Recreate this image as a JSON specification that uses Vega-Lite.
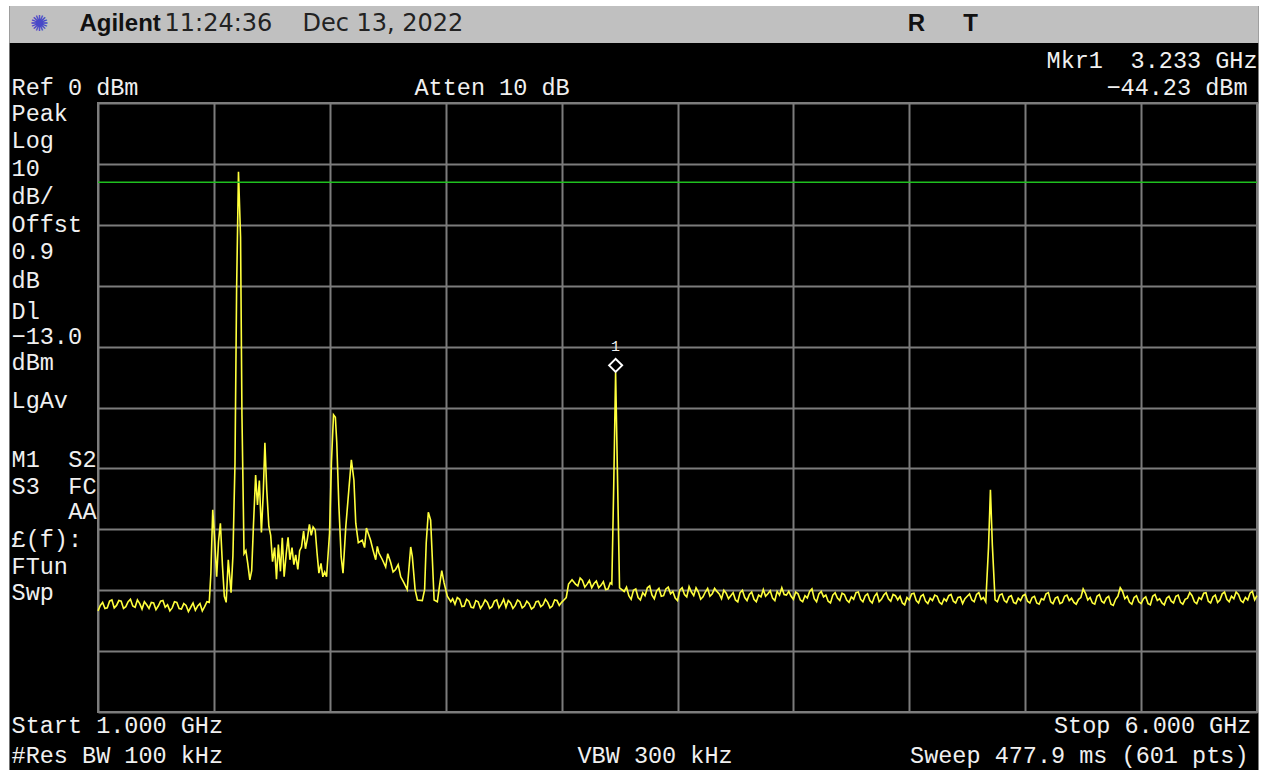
{
  "$schema": "https://vega.github.io/schema/vega-lite/v6.json",
  "width": 1159,
  "height": 609,
  "autosize": {"type": "none"},
  "padding": {"left": 98, "top": 103, "right": 10, "bottom": 58},
  "background": "black",
  "config": {
    "view": {"stroke": "#7c7c7c", "strokeWidth": 2, "fill": "black"},
    "axis": {"grid": true, "gridColor": "#7c7c7c", "gridWidth": 2, "gridOpacity": 1, "labels": false, "ticks": false, "domain": false, "title": null}
  },
  "datasets": {
    "trace": [
      {"f":1.00,"p":-83.4},{"f":1.01,"p":-82.5},{"f":1.02,"p":-82.0},{"f":1.03,"p":-83.0},{"f":1.04,"p":-82.9},
      {"f":1.05,"p":-81.8},{"f":1.06,"p":-81.6},{"f":1.07,"p":-82.9},{"f":1.08,"p":-82.5},{"f":1.09,"p":-81.7},
      {"f":1.10,"p":-81.8},{"f":1.11,"p":-83.0},{"f":1.12,"p":-82.7},{"f":1.13,"p":-81.9},{"f":1.14,"p":-81.5},
      {"f":1.15,"p":-82.6},{"f":1.16,"p":-82.8},{"f":1.17,"p":-81.6},{"f":1.18,"p":-82.2},{"f":1.19,"p":-83.1},
      {"f":1.20,"p":-81.9},{"f":1.21,"p":-82.4},{"f":1.22,"p":-83.0},{"f":1.23,"p":-82.0},{"f":1.24,"p":-82.1},
      {"f":1.25,"p":-83.2},{"f":1.26,"p":-82.6},{"f":1.27,"p":-81.8},{"f":1.28,"p":-81.7},{"f":1.29,"p":-82.8},
      {"f":1.30,"p":-82.4},{"f":1.31,"p":-83.4},{"f":1.32,"p":-82.9},{"f":1.33,"p":-81.9},{"f":1.34,"p":-82.0},
      {"f":1.35,"p":-83.0},{"f":1.36,"p":-83.1},{"f":1.37,"p":-82.2},{"f":1.38,"p":-82.5},{"f":1.39,"p":-83.5},
      {"f":1.40,"p":-82.8},{"f":1.41,"p":-82.1},{"f":1.42,"p":-83.3},{"f":1.43,"p":-82.6},{"f":1.44,"p":-82.2},
      {"f":1.45,"p":-83.4},{"f":1.46,"p":-82.7},{"f":1.47,"p":-81.9},{"f":1.48,"p":-82.0},
      {"f":1.487,"p":-77.2},{"f":1.495,"p":-66.8},{"f":1.503,"p":-71.5},{"f":1.512,"p":-77.8},{"f":1.520,"p":-72.0},
      {"f":1.528,"p":-69.0},{"f":1.537,"p":-76.0},{"f":1.545,"p":-81.0},{"f":1.553,"p":-82.0},{"f":1.562,"p":-75.0},
      {"f":1.574,"p":-80.4},{"f":1.582,"p":-74.4},{"f":1.591,"p":-59.1},{"f":1.598,"p":-30.4},{"f":1.606,"p":-11.3},
      {"f":1.615,"p":-22.0},{"f":1.621,"p":-51.2},{"f":1.630,"p":-74.0},{"f":1.638,"p":-73.5},{"f":1.646,"p":-75.6},
      {"f":1.655,"p":-78.3},{"f":1.663,"p":-76.8},{"f":1.671,"p":-69.0},{"f":1.680,"p":-61.1},{"f":1.688,"p":-66.0},
      {"f":1.696,"p":-62.0},{"f":1.705,"p":-70.5},{"f":1.713,"p":-64.0},{"f":1.720,"p":-55.8},{"f":1.728,"p":-63.5},
      {"f":1.737,"p":-69.5},{"f":1.745,"p":-71.0},{"f":1.753,"p":-75.3},{"f":1.762,"p":-73.0},{"f":1.770,"p":-78.2},
      {"f":1.778,"p":-72.5},{"f":1.787,"p":-76.9},{"f":1.795,"p":-71.4},{"f":1.803,"p":-77.8},{"f":1.812,"p":-74.0},
      {"f":1.820,"p":-71.3},{"f":1.828,"p":-75.0},{"f":1.837,"p":-73.0},{"f":1.845,"p":-75.8},{"f":1.853,"p":-74.2},
      {"f":1.862,"p":-76.6},{"f":1.870,"p":-73.5},{"f":1.878,"p":-72.9},{"f":1.887,"p":-70.3},{"f":1.895,"p":-73.2},
      {"f":1.903,"p":-71.6},{"f":1.912,"p":-69.2},{"f":1.920,"p":-71.0},{"f":1.928,"p":-69.6},{"f":1.937,"p":-70.1},
      {"f":1.945,"p":-73.9},{"f":1.953,"p":-77.2},{"f":1.962,"p":-75.6},{"f":1.970,"p":-77.8},{"f":1.978,"p":-77.0},
      {"f":1.986,"p":-77.8},{"f":1.999,"p":-70.6},{"f":2.007,"p":-59.1},{"f":2.016,"p":-51.2},{"f":2.024,"p":-51.6},
      {"f":2.030,"p":-55.7},{"f":2.039,"p":-66.0},{"f":2.049,"p":-74.5},{"f":2.057,"p":-77.2},{"f":2.069,"p":-69.6},
      {"f":2.083,"p":-63.1},{"f":2.093,"p":-58.6},{"f":2.104,"p":-61.9},{"f":2.112,"p":-69.0},{"f":2.123,"p":-72.2},
      {"f":2.140,"p":-71.8},{"f":2.150,"p":-73.0},{"f":2.158,"p":-69.8},{"f":2.176,"p":-71.8},{"f":2.187,"p":-73.5},
      {"f":2.198,"p":-75.0},{"f":2.205,"p":-72.8},{"f":2.212,"p":-73.9},{"f":2.227,"p":-75.0},{"f":2.241,"p":-76.2},
      {"f":2.250,"p":-74.0},{"f":2.263,"p":-75.5},{"f":2.273,"p":-77.0},{"f":2.284,"p":-76.6},{"f":2.295,"p":-75.8},
      {"f":2.306,"p":-77.8},{"f":2.320,"p":-78.8},{"f":2.334,"p":-79.9},{"f":2.349,"p":-72.9},{"f":2.356,"p":-74.5},
      {"f":2.368,"p":-79.9},{"f":2.378,"p":-81.6},{"f":2.399,"p":-81.7},{"f":2.409,"p":-79.9},{"f":2.416,"p":-72.2},
      {"f":2.425,"p":-67.2},{"f":2.435,"p":-68.5},{"f":2.442,"p":-74.5},{"f":2.450,"p":-81.6},{"f":2.464,"p":-81.9},
      {"f":2.474,"p":-79.1},{"f":2.483,"p":-76.8},{"f":2.493,"p":-78.8},{"f":2.507,"p":-81.0},{"f":2.522,"p":-81.9},
      {"f":2.53,"p":-81.4},{"f":2.54,"p":-82.3},{"f":2.55,"p":-81.2},{"f":2.56,"p":-81.5},{"f":2.57,"p":-82.7},
      {"f":2.58,"p":-82.6},{"f":2.59,"p":-81.5},{"f":2.60,"p":-81.8},{"f":2.61,"p":-82.8},{"f":2.62,"p":-82.9},
      {"f":2.63,"p":-81.7},{"f":2.64,"p":-81.9},{"f":2.65,"p":-83.0},{"f":2.66,"p":-82.4},{"f":2.67,"p":-81.6},
      {"f":2.68,"p":-82.0},{"f":2.69,"p":-83.0},{"f":2.70,"p":-82.7},{"f":2.71,"p":-81.8},{"f":2.72,"p":-81.6},
      {"f":2.73,"p":-82.9},{"f":2.74,"p":-82.3},{"f":2.75,"p":-81.5},{"f":2.76,"p":-82.8},{"f":2.77,"p":-81.7},
      {"f":2.78,"p":-82.1},{"f":2.79,"p":-83.0},{"f":2.80,"p":-82.5},{"f":2.81,"p":-81.6},{"f":2.82,"p":-81.9},
      {"f":2.83,"p":-82.9},{"f":2.84,"p":-82.6},{"f":2.85,"p":-81.8},{"f":2.86,"p":-82.2},{"f":2.87,"p":-83.1},
      {"f":2.88,"p":-82.8},{"f":2.89,"p":-81.9},{"f":2.90,"p":-81.8},{"f":2.91,"p":-82.7},{"f":2.92,"p":-82.4},
      {"f":2.93,"p":-81.5},{"f":2.94,"p":-82.0},{"f":2.95,"p":-82.9},{"f":2.96,"p":-82.6},{"f":2.97,"p":-81.6},
      {"f":2.98,"p":-81.7},{"f":2.99,"p":-82.5},{"f":3.00,"p":-82.0},{"f":3.01,"p":-81.6},{"f":3.02,"p":-81.2},
      {"f":3.03,"p":-79.0},{"f":3.045,"p":-78.3},{"f":3.06,"p":-79.0},{"f":3.07,"p":-79.3},{"f":3.08,"p":-78.0},
      {"f":3.09,"p":-78.4},{"f":3.10,"p":-79.5},{"f":3.11,"p":-79.0},{"f":3.12,"p":-78.4},{"f":3.13,"p":-79.6},
      {"f":3.14,"p":-78.9},{"f":3.15,"p":-78.5},{"f":3.16,"p":-79.6},{"f":3.17,"p":-79.2},{"f":3.18,"p":-78.6},
      {"f":3.19,"p":-79.9},{"f":3.20,"p":-79.8},{"f":3.21,"p":-78.8},
      {"f":3.2167,"p":-79.0},{"f":3.225,"p":-62.6},{"f":3.233,"p":-44.23},{"f":3.2417,"p":-62.5},{"f":3.25,"p":-79.6},
      {"f":3.27,"p":-80.2},{"f":3.28,"p":-79.5},{"f":3.29,"p":-80.9},{"f":3.30,"p":-81.5},{"f":3.31,"p":-80.0},
      {"f":3.32,"p":-79.8},{"f":3.33,"p":-81.2},{"f":3.34,"p":-81.6},{"f":3.35,"p":-80.4},{"f":3.36,"p":-80.9},
      {"f":3.37,"p":-79.6},{"f":3.38,"p":-79.3},{"f":3.39,"p":-80.8},{"f":3.40,"p":-81.4},{"f":3.41,"p":-80.1},
      {"f":3.42,"p":-79.7},{"f":3.43,"p":-81.0},{"f":3.44,"p":-80.9},{"f":3.45,"p":-79.8},{"f":3.46,"p":-79.5},
      {"f":3.47,"p":-80.6},{"f":3.48,"p":-80.2},{"f":3.49,"p":-81.3},{"f":3.50,"p":-81.7},{"f":3.51,"p":-80.0},
      {"f":3.52,"p":-79.6},{"f":3.53,"p":-80.7},{"f":3.54,"p":-81.1},{"f":3.55,"p":-79.4},{"f":3.56,"p":-80.3},
      {"f":3.57,"p":-80.9},{"f":3.58,"p":-79.6},{"f":3.59,"p":-80.3},{"f":3.60,"p":-81.5},{"f":3.61,"p":-81.1},
      {"f":3.62,"p":-80.3},{"f":3.63,"p":-79.7},{"f":3.64,"p":-81.0},{"f":3.65,"p":-80.6},{"f":3.66,"p":-79.7},
      {"f":3.67,"p":-80.2},{"f":3.68,"p":-80.6},{"f":3.69,"p":-81.4},{"f":3.70,"p":-80.0},{"f":3.71,"p":-80.5},
      {"f":3.72,"p":-81.4},{"f":3.73,"p":-80.9},{"f":3.74,"p":-80.4},{"f":3.75,"p":-81.6},{"f":3.76,"p":-81.9},
      {"f":3.77,"p":-80.4},{"f":3.78,"p":-80.0},{"f":3.79,"p":-81.2},{"f":3.80,"p":-81.7},{"f":3.81,"p":-80.7},
      {"f":3.82,"p":-80.3},{"f":3.83,"p":-81.5},{"f":3.84,"p":-81.9},{"f":3.85,"p":-80.8},{"f":3.86,"p":-81.1},
      {"f":3.87,"p":-79.9},{"f":3.88,"p":-81.0},{"f":3.89,"p":-80.6},{"f":3.90,"p":-80.1},{"f":3.91,"p":-81.3},
      {"f":3.92,"p":-81.7},{"f":3.93,"p":-80.2},{"f":3.94,"p":-80.8},{"f":3.95,"p":-79.6},{"f":3.96,"p":-80.7},
      {"f":3.97,"p":-80.8},{"f":3.98,"p":-80.2},{"f":3.99,"p":-81.0},{"f":4.00,"p":-81.5},{"f":4.01,"p":-80.3},
      {"f":4.02,"p":-80.6},{"f":4.03,"p":-81.6},{"f":4.04,"p":-81.9},{"f":4.05,"p":-80.9},{"f":4.06,"p":-81.3},
      {"f":4.07,"p":-80.2},{"f":4.08,"p":-79.8},{"f":4.09,"p":-81.4},{"f":4.10,"p":-81.9},{"f":4.11,"p":-80.6},
      {"f":4.12,"p":-80.2},{"f":4.13,"p":-81.1},{"f":4.14,"p":-80.8},{"f":4.15,"p":-81.8},{"f":4.16,"p":-82.1},
      {"f":4.17,"p":-80.8},{"f":4.18,"p":-80.4},{"f":4.19,"p":-81.3},{"f":4.20,"p":-81.7},{"f":4.21,"p":-80.5},
      {"f":4.22,"p":-80.7},{"f":4.23,"p":-81.6},{"f":4.24,"p":-82.0},{"f":4.25,"p":-81.1},{"f":4.26,"p":-81.5},
      {"f":4.27,"p":-80.4},{"f":4.28,"p":-80.3},{"f":4.29,"p":-81.5},{"f":4.30,"p":-81.9},{"f":4.31,"p":-80.9},
      {"f":4.32,"p":-80.6},{"f":4.33,"p":-81.7},{"f":4.34,"p":-82.1},{"f":4.35,"p":-81.0},{"f":4.36,"p":-80.5},
      {"f":4.37,"p":-81.9},{"f":4.38,"p":-81.5},{"f":4.39,"p":-80.8},{"f":4.40,"p":-80.4},{"f":4.41,"p":-81.4},
      {"f":4.42,"p":-81.8},{"f":4.43,"p":-80.7},{"f":4.44,"p":-80.9},{"f":4.45,"p":-81.6},{"f":4.46,"p":-81.0},
      {"f":4.47,"p":-82.1},{"f":4.48,"p":-82.4},{"f":4.49,"p":-81.2},{"f":4.50,"p":-81.6},{"f":4.51,"p":-80.6},
      {"f":4.52,"p":-80.5},{"f":4.53,"p":-81.7},{"f":4.54,"p":-82.1},{"f":4.55,"p":-81.0},{"f":4.56,"p":-80.7},
      {"f":4.57,"p":-81.8},{"f":4.58,"p":-82.2},{"f":4.59,"p":-81.3},{"f":4.60,"p":-81.7},{"f":4.61,"p":-80.8},
      {"f":4.62,"p":-81.0},{"f":4.63,"p":-82.0},{"f":4.64,"p":-82.3},{"f":4.65,"p":-81.4},{"f":4.66,"p":-81.8},
      {"f":4.67,"p":-80.9},{"f":4.68,"p":-80.7},{"f":4.69,"p":-81.8},{"f":4.70,"p":-82.1},{"f":4.71,"p":-81.2},
      {"f":4.72,"p":-81.1},{"f":4.73,"p":-82.2},{"f":4.74,"p":-81.4},{"f":4.75,"p":-81.0},{"f":4.76,"p":-80.6},
      {"f":4.77,"p":-81.6},{"f":4.78,"p":-81.9},{"f":4.79,"p":-80.7},{"f":4.80,"p":-80.4},{"f":4.81,"p":-81.5},
      {"f":4.82,"p":-81.2},{"f":4.83,"p":-81.9},{"f":4.8417,"p":-73.0},{"f":4.85,"p":-63.5},{"f":4.8583,"p":-72.6},
      {"f":4.87,"p":-81.6},{"f":4.88,"p":-81.9},{"f":4.89,"p":-80.8},{"f":4.90,"p":-80.6},{"f":4.91,"p":-81.7},
      {"f":4.92,"p":-82.0},{"f":4.93,"p":-81.1},{"f":4.94,"p":-80.9},{"f":4.95,"p":-82.0},{"f":4.96,"p":-82.2},
      {"f":4.97,"p":-81.3},{"f":4.98,"p":-81.7},{"f":4.99,"p":-80.9},{"f":5.00,"p":-80.7},{"f":5.01,"p":-81.8},
      {"f":5.02,"p":-82.1},{"f":5.03,"p":-81.2},{"f":5.04,"p":-81.0},{"f":5.05,"p":-82.1},{"f":5.06,"p":-82.3},
      {"f":5.07,"p":-81.4},{"f":5.08,"p":-81.6},{"f":5.09,"p":-80.6},{"f":5.10,"p":-80.4},{"f":5.11,"p":-81.9},
      {"f":5.12,"p":-82.2},{"f":5.13,"p":-81.3},{"f":5.14,"p":-81.1},{"f":5.15,"p":-82.2},{"f":5.16,"p":-82.0},
      {"f":5.17,"p":-81.0},{"f":5.18,"p":-80.8},{"f":5.19,"p":-81.7},{"f":5.20,"p":-81.3},{"f":5.21,"p":-82.0},
      {"f":5.22,"p":-82.3},{"f":5.23,"p":-81.5},{"f":5.24,"p":-81.2},{"f":5.25,"p":-79.8},{"f":5.26,"p":-80.5},
      {"f":5.27,"p":-81.6},{"f":5.28,"p":-81.2},{"f":5.29,"p":-82.1},{"f":5.30,"p":-82.3},{"f":5.31,"p":-81.0},
      {"f":5.32,"p":-80.7},{"f":5.33,"p":-81.8},{"f":5.34,"p":-82.1},{"f":5.35,"p":-81.3},{"f":5.36,"p":-81.0},
      {"f":5.37,"p":-82.3},{"f":5.38,"p":-82.5},{"f":5.39,"p":-81.5},{"f":5.40,"p":-81.0},{"f":5.41,"p":-79.6},
      {"f":5.42,"p":-80.2},{"f":5.43,"p":-81.4},{"f":5.44,"p":-81.0},{"f":5.45,"p":-82.0},{"f":5.46,"p":-82.3},
      {"f":5.47,"p":-81.2},{"f":5.48,"p":-80.9},{"f":5.49,"p":-81.9},{"f":5.50,"p":-82.2},{"f":5.51,"p":-81.4},
      {"f":5.52,"p":-81.1},{"f":5.53,"p":-82.2},{"f":5.54,"p":-82.4},{"f":5.55,"p":-81.0},{"f":5.56,"p":-80.7},
      {"f":5.57,"p":-81.7},{"f":5.58,"p":-81.4},{"f":5.59,"p":-82.1},{"f":5.60,"p":-82.4},{"f":5.61,"p":-81.3},
      {"f":5.62,"p":-81.0},{"f":5.63,"p":-81.8},{"f":5.64,"p":-82.1},{"f":5.65,"p":-81.0},{"f":5.66,"p":-80.8},
      {"f":5.67,"p":-82.0},{"f":5.68,"p":-82.3},{"f":5.69,"p":-81.5},{"f":5.70,"p":-81.3},{"f":5.71,"p":-80.4},
      {"f":5.72,"p":-80.9},{"f":5.73,"p":-81.9},{"f":5.74,"p":-82.2},{"f":5.75,"p":-81.2},{"f":5.76,"p":-81.5},
      {"f":5.77,"p":-80.5},{"f":5.78,"p":-80.4},{"f":5.79,"p":-81.8},{"f":5.80,"p":-82.1},{"f":5.81,"p":-81.1},
      {"f":5.82,"p":-80.8},{"f":5.83,"p":-82.0},{"f":5.84,"p":-81.6},{"f":5.85,"p":-80.6},{"f":5.86,"p":-80.3},
      {"f":5.87,"p":-81.5},{"f":5.88,"p":-81.9},{"f":5.89,"p":-81.0},{"f":5.90,"p":-81.4},{"f":5.91,"p":-80.3},
      {"f":5.92,"p":-80.7},{"f":5.93,"p":-81.7},{"f":5.94,"p":-82.0},{"f":5.95,"p":-81.2},{"f":5.96,"p":-81.6},
      {"f":5.97,"p":-80.5},{"f":5.98,"p":-80.2},{"f":5.99,"p":-81.6},{"f":6.00,"p":-80.9}
    ],
    "leftText": [
      {"t":"Peak","f":0.627,"p":-1.81},
      {"t":"Log","f":0.627,"p":-6.24},
      {"t":"10","f":0.627,"p":-10.84},
      {"t":"dB/","f":0.627,"p":-15.44},
      {"t":"Offst","f":0.627,"p":-20.03},
      {"t":"0.9","f":0.627,"p":-24.47},
      {"t":"dB","f":0.627,"p":-29.23},
      {"t":"Dl","f":0.627,"p":-34.32},
      {"t":"−13.0","f":0.627,"p":-38.42},
      {"t":"dBm","f":0.627,"p":-42.69},
      {"t":"LgAv","f":0.627,"p":-48.93},
      {"t":"M1","f":0.627,"p":-58.62},
      {"t":"S3","f":0.627,"p":-63.05},
      {"t":"£(f):","f":0.627,"p":-71.76},
      {"t":"FTun","f":0.627,"p":-76.19},
      {"t":"Swp","f":0.627,"p":-80.46},
      {"t":"Ref 0 dBm","f":0.627,"p":2.46},
      {"t":"Atten 10 dB","f":2.3654,"p":2.46},
      {"t":"Mkr1","f":5.092,"p":6.9},
      {"t":"Start 1.000 GHz","f":0.627,"p":-102.3},
      {"t":"#Res BW 100 kHz","f":0.627,"p":-107.2},
      {"t":"VBW 300 kHz","f":3.0686,"p":-107.2}
    ],
    "rightText": [
      {"t":"S2","f":0.9935,"p":-58.62},
      {"t":"FC","f":0.9935,"p":-63.05},
      {"t":"AA","f":0.9935,"p":-67.16},
      {"t":"3.233 GHz","f":6.0022,"p":6.9},
      {"t":"−44.23 dBm","f":5.959,"p":2.46},
      {"t":"Stop 6.000 GHz","f":5.976,"p":-102.3},
      {"t":"Sweep 477.9 ms (601 pts)","f":5.9633,"p":-107.2}
    ]
  },
  "layer": [
    {
      "data": {"values": [
        {"f":0.3,"f2":6.3,"p":15.93,"p2":20},
        {"f":0.3,"f2":0.618,"p":-120,"p2":20},
        {"f":6.0065,"f2":6.3,"p":-120,"p2":20}
      ]},
      "mark": {"type": "rect", "color": "white"},
      "encoding": {
        "x": {"field": "f", "type": "quantitative", "scale": {"domain": [1, 6], "nice": false, "zero": false}},
        "x2": {"field": "f2"},
        "y": {"field": "p", "type": "quantitative", "scale": {"domain": [-100, 0], "nice": false, "zero": false}},
        "y2": {"field": "p2"}
      }
    },
    {
      "data": {"values": [{"f":0.618,"f2":6.0065,"p":9.85,"p2":15.93}]},
      "mark": {"type": "rect", "color": "#c0c0c0"},
      "encoding": {
        "x": {"field": "f", "type": "quantitative", "scale": {"domain": [1, 6], "nice": false, "zero": false}},
        "x2": {"field": "f2"},
        "y": {"field": "p", "type": "quantitative", "scale": {"domain": [-100, 0], "nice": false, "zero": false}},
        "y2": {"field": "p2"}
      }
    },
    {
      "data": {"name": "trace"},
      "mark": {"type": "line", "color": "#ffff3c", "strokeWidth": 1.6},
      "encoding": {
        "x": {"field": "f", "type": "quantitative", "scale": {"domain": [1, 6], "nice": false, "zero": false},
              "axis": {"values": [1, 1.5, 2, 2.5, 3, 3.5, 4, 4.5, 5, 5.5, 6]}},
        "y": {"field": "p", "type": "quantitative", "scale": {"domain": [-100, 0], "nice": false, "zero": false},
              "axis": {"values": [0, -10, -20, -30, -40, -50, -60, -70, -80, -90, -100]}}
      }
    },
    {
      "data": {"values": [{"f":1,"f2":6,"p":-13}]},
      "mark": {"type": "rule", "color": "#1fbf1f", "strokeWidth": 1.5},
      "encoding": {
        "x": {"field": "f", "type": "quantitative", "scale": {"domain": [1, 6], "nice": false, "zero": false}},
        "x2": {"field": "f2"},
        "y": {"field": "p", "type": "quantitative", "scale": {"domain": [-100, 0], "nice": false, "zero": false}}
      }
    },
    {
      "data": {"values": [{"f":3.233,"p":-44.23}]},
      "mark": {"type": "point", "shape": "diamond", "size": 170, "filled": false, "fill": "black", "fillOpacity": 1, "stroke": "white", "strokeWidth": 2, "opacity": 1, "yOffset": -7},
      "encoding": {
        "x": {"field": "f", "type": "quantitative", "scale": {"domain": [1, 6], "nice": false, "zero": false}},
        "y": {"field": "p", "type": "quantitative", "scale": {"domain": [-100, 0], "nice": false, "zero": false}}
      }
    },
    {
      "data": {"values": [{"f":3.233,"p":-44.23,"t":"1"}]},
      "mark": {"type": "text", "font": "Liberation Mono", "fontSize": 15, "color": "#f0f0f0", "align": "center", "baseline": "middle", "yOffset": -26},
      "encoding": {
        "x": {"field": "f", "type": "quantitative", "scale": {"domain": [1, 6], "nice": false, "zero": false}},
        "y": {"field": "p", "type": "quantitative", "scale": {"domain": [-100, 0], "nice": false, "zero": false}},
        "text": {"field": "t"}
      }
    },
    {
      "data": {"name": "leftText"},
      "mark": {"type": "text", "font": "Liberation Mono", "fontSize": 23.5, "color": "#f0f0f0", "align": "left", "baseline": "middle"},
      "encoding": {
        "x": {"field": "f", "type": "quantitative", "scale": {"domain": [1, 6], "nice": false, "zero": false}},
        "y": {"field": "p", "type": "quantitative", "scale": {"domain": [-100, 0], "nice": false, "zero": false}},
        "text": {"field": "t"}
      }
    },
    {
      "data": {"name": "rightText"},
      "mark": {"type": "text", "font": "Liberation Mono", "fontSize": 23.5, "color": "#f0f0f0", "align": "right", "baseline": "middle"},
      "encoding": {
        "x": {"field": "f", "type": "quantitative", "scale": {"domain": [1, 6], "nice": false, "zero": false}},
        "y": {"field": "p", "type": "quantitative", "scale": {"domain": [-100, 0], "nice": false, "zero": false}},
        "text": {"field": "t"}
      }
    },
    {
      "data": {"values": [{"t":"Agilent","f":0.92,"p":12.97}]},
      "mark": {"type": "text", "font": "Liberation Sans", "fontWeight": "bold", "fontSize": 24, "color": "#111111", "align": "left", "baseline": "middle"},
      "encoding": {
        "x": {"field": "f", "type": "quantitative", "scale": {"domain": [1, 6], "nice": false, "zero": false}},
        "y": {"field": "p", "type": "quantitative", "scale": {"domain": [-100, 0], "nice": false, "zero": false}},
        "text": {"field": "t"}
      }
    },
    {
      "data": {"values": [{"t":"11:24:36","f":1.287,"p":12.97},{"t":"Dec 13, 2022","f":1.882,"p":12.97}]},
      "mark": {"type": "text", "font": "DejaVu Sans", "fontSize": 24, "color": "#222222", "align": "left", "baseline": "middle"},
      "encoding": {
        "x": {"field": "f", "type": "quantitative", "scale": {"domain": [1, 6], "nice": false, "zero": false}},
        "y": {"field": "p", "type": "quantitative", "scale": {"domain": [-100, 0], "nice": false, "zero": false}},
        "text": {"field": "t"}
      }
    },
    {
      "data": {"values": [{"t":"R","f":4.531,"p":12.97},{"t":"T","f":4.764,"p":12.97}]},
      "mark": {"type": "text", "font": "Liberation Sans", "fontWeight": "bold", "fontSize": 24, "color": "#111111", "align": "center", "baseline": "middle"},
      "encoding": {
        "x": {"field": "f", "type": "quantitative", "scale": {"domain": [1, 6], "nice": false, "zero": false}},
        "y": {"field": "p", "type": "quantitative", "scale": {"domain": [-100, 0], "nice": false, "zero": false}},
        "text": {"field": "t"}
      }
    },
    {
      "data": {"values": [{"t":"✺","f":0.7476,"p":12.97}]},
      "mark": {"type": "text", "font": "DejaVu Sans", "fontSize": 22, "color": "#4848c8", "align": "center", "baseline": "middle"},
      "encoding": {
        "x": {"field": "f", "type": "quantitative", "scale": {"domain": [1, 6], "nice": false, "zero": false}},
        "y": {"field": "p", "type": "quantitative", "scale": {"domain": [-100, 0], "nice": false, "zero": false}},
        "text": {"field": "t"}
      }
    }
  ]
}
